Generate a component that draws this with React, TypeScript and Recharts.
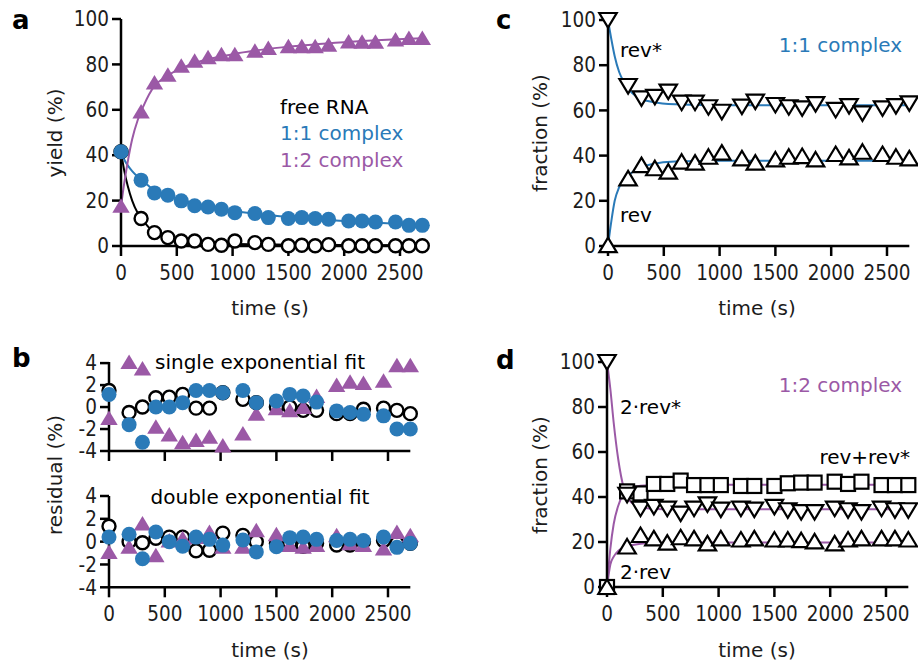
import React from 'react';
import { ComposedChart, Line, Scatter, XAxis, YAxis } from 'recharts';

// sampling times (s), shared by every panel
const TIME = [0, 180, 300, 420, 540, 660, 780, 900, 1020, 1200, 1320, 1500, 1620, 1740, 1860, 2040, 2160, 2280, 2460, 2580, 2700];
const X_TICKS = [0, 500, 1000, 1500, 2000, 2500];

// a: yields (%)
const FREE_RNA = [41.5, 12.1, 5.9, 3.7, 2.2, 2.2, 0.7, 0.3, 2.2, 1.5, 0.7, 0.1, 0.3, 0.1, 0.6, 0.1, 0.1, 0.1, 0.1, 0.1, 0.1];
const COMPLEX_11 = [41.5, 29, 23.4, 22.4, 19.9, 17.7, 17.2, 16.2, 14.7, 14.3, 12.5, 12.1, 12.5, 12.1, 11.8, 11, 11, 10.6, 10.6, 9.1, 9.1];
const COMPLEX_12 = [17.7, 59.2, 72, 75.4, 79.4, 81.6, 83.2, 84.5, 84.5, 86, 87.2, 88, 88, 88, 88.7, 90.1, 90, 90, 91, 91.6, 91.6];

// b: residuals (%)
const SINGLE_FREE = [1.5, -0.5, 0, 0.85, 0.9, 1.15, -0.1, -0.1, 1.3, 0.7, 0.4, 0, 0, -0.3, -0.3, -0.6, -0.6, -0.2, -0.1, -0.3, -0.6];
const SINGLE_11 = [1.15, -1.6, -3.2, 0, 0, 0.4, 1.5, 1.5, 1.3, 1.5, 0.4, 0.55, 1.15, 1, 0.45, -0.35, -0.5, -0.65, -0.8, -2, -2];
const SINGLE_12 = [-1, 4.1, 3.5, -1.8, -2.5, -3.2, -3, -2.7, -3.5, -2.4, -0.6, -0.1, -0.3, 0, 1, 2, 2.3, 2.2, 2.4, 3.8, 3.8];
const DOUBLE_FREE = [1.35, 0, -0.1, 0.3, 0.4, 0.4, -0.8, -0.75, 0.75, 0.55, 0, -0.15, -0.15, -0.4, -0.15, -0.3, -0.3, 0, 0.1, -0.15, -0.15];
const DOUBLE_11 = [0.4, 0.65, -1.5, 0.85, 0, -0.4, 0.4, 0.2, -0.3, 0.15, -0.9, -0.45, 0.35, 0.4, 0.2, 0.1, 0.2, 0.1, 0.4, -0.5, -0.15];
const DOUBLE_12 = [-0.9, -0.45, 1.6, -1.2, 0.1, 0.3, 0.4, 0.85, -0.45, -0.45, 1, 0.65, -0.3, -0.45, -0.3, 0.55, -0.15, -0.3, -0.6, 0.85, 0.55];

// c: 1:1 complex fractions (%)
const REV_STAR_11 = [100, 70.8, 65.3, 66, 68.3, 63.4, 63.4, 61.4, 59.4, 61.7, 63.9, 62.4, 61.4, 60.9, 62.8, 60.2, 61.9, 58.7, 60.9, 61.9, 63.1];
const REV_11 = [0.4, 29.9, 35.8, 34.4, 32.9, 37.3, 36.9, 39.5, 41.3, 38.8, 36.9, 38.3, 39.5, 39.8, 38.3, 40.7, 39.2, 41.7, 40.7, 39.5, 38.8];

// d: 1:2 complex fractions (%)
const REV_STAR_12 = [100, 41, 34.8, 35.6, 34.8, 32.6, 34.8, 36.7, 34.4, 34.8, 34.4, 35.6, 34.1, 33.3, 33.3, 34.8, 34.1, 33.3, 34.8, 34.1, 34.1];
const REVREV_12 = [0, 42.5, 41.6, 45.8, 45.8, 47.3, 45.3, 45.3, 45.3, 44.9, 44.9, 44.9, 46.1, 46.4, 46.4, 46.8, 45.8, 46.8, 45.3, 45.3, 45.3];
const REV_12 = [0, 18, 23.1, 21.6, 19.7, 22.1, 21.6, 19.4, 21.6, 21.1, 21.6, 21.1, 21.1, 20.8, 20.3, 19.4, 21.1, 21.6, 21.6, 21.6, 21.1];

// fitted curves, sampled at these times
const FIT_T = [0, 30, 60, 100, 150, 200, 300, 400, 600, 1000, 1500, 2000, 2700];
const FIT_FREE = [41.5, 33, 26.5, 20, 14.5, 11, 6, 3.8, 2, 1, 0.6, 0.4, 0.3];
const FIT_11 = [41.5, 38, 35.5, 33, 30.5, 28.5, 24.5, 22.5, 19.5, 15.5, 12.8, 11, 9.3];
const FIT_12 = [17.5, 28, 37, 47, 55.5, 61.5, 70.5, 74.5, 79.5, 84.5, 87.8, 89.8, 91.5];
const FIT_REV_STAR_11 = [100, 91.5, 84, 77, 72, 68.5, 65, 63.7, 62.7, 62.3, 62.3, 62.3, 62.3];
const FIT_REV_11 = [0, 11, 20, 26, 29.8, 32, 35, 36.3, 37.4, 37.7, 37.7, 37.7, 37.7];
const FIT_REV_STAR_12 = [100, 88, 73, 57, 44, 38.5, 35.5, 34.8, 34.5, 34.5, 34.5, 34.5, 34.5];
const FIT_REVREV_12 = [0, 17, 28, 36, 41.5, 43.5, 45, 45.3, 45.5, 45.5, 45.5, 45.5, 45.5];
const FIT_REV_12 = [0, 10, 13.5, 16, 17.5, 18.3, 19.2, 19.6, 19.8, 19.8, 19.8, 19.8, 19.8];

const PURPLE = '#9b59a6';
const BLUE = '#2a7ab8';
const INK = '#1c1c1c';
const FONT = '"DejaVu Sans", sans-serif';
const TICK_FONT = '"DejaVu Sans Condensed", "DejaVu Sans", sans-serif';

const PLOT_W = 2700 * 0.1116;
const AXIS = { stroke: '#000', strokeWidth: 2.5 };

const pts = (ts: number[], vs: number[]) => ts.map((t, i) => ({ t, v: vs[i] }));

// marker shapes
const TriUp = ({ cx, cy, fill = '#fff', stroke = '#000' }: any) => (
  <polygon points={`${cx},${cy - 7.5} ${cx + 8.7},${cy + 7} ${cx - 8.7},${cy + 7}`} fill={fill} stroke={stroke} strokeWidth={fill === '#fff' ? 2.2 : 0} />
);
const TriDown = ({ cx, cy }: any) => (
  <polygon points={`${cx - 8.7},${cy - 7} ${cx + 8.7},${cy - 7} ${cx},${cy + 7.5}`} fill="#fff" stroke="#000" strokeWidth={2.2} />
);
const Square = ({ cx, cy }: any) => (
  <rect x={cx - 7} y={cy - 7} width={14} height={14} fill="#fff" stroke="#000" strokeWidth={2.2} />
);
const OpenDot = ({ cx, cy }: any) => <circle cx={cx} cy={cy} r={6.5} fill="#fff" stroke="#000" strokeWidth={2.4} />;
const BlueDot = ({ cx, cy }: any) => <circle cx={cx} cy={cy} r={7.5} fill={BLUE} />;
const PurpleTri = (p: any) => <TriUp {...p} fill={PURPLE} stroke="none" />;

const fit = (key: string, vs: number[], color: string) => (
  <Line key={key} data={pts(FIT_T, vs)} dataKey="v" type="monotone" stroke={color} strokeWidth={2}
    dot={false} activeDot={false} isAnimationActive={false} />
);
const marks = (key: string, vs: number[], shape: any) => (
  <Scatter key={key} data={pts(TIME, vs)} dataKey="v" shape={shape} isAnimationActive={false} />
);

type PanelProps = {
  plotLeft: number;
  plotTop: number;
  plotH: number;
  yDomain: [number, number];
  yTicks: number[];
  xLabels?: boolean;
  children: React.ReactNode;
};

function Panel({ plotLeft, plotTop, plotH, yDomain, yTicks, xLabels = true, children }: PanelProps) {
  const W = 70 + PLOT_W + 20;
  const H = 15 + plotH + 45;
  const tickStyle = { fill: INK, fontSize: 20.5, fontFamily: TICK_FONT };
  return (
    <div style={{ position: 'absolute', left: plotLeft - 70, top: plotTop - 15 }}>
      <ComposedChart width={W} height={H} margin={{ top: 15, right: 20, bottom: 0, left: 10 }}>
        <XAxis type="number" dataKey="t" domain={[0, 2700]} ticks={X_TICKS} interval={0} height={45}
          axisLine={AXIS} tickLine={AXIS} tickSize={10} tickMargin={9} tick={tickStyle}
          tickFormatter={xLabels ? undefined : () => ''} />
        <YAxis type="number" dataKey="v" domain={yDomain} ticks={yTicks} interval={0} width={60}
          axisLine={AXIS} tickLine={AXIS} tickSize={9} tickMargin={3} tick={tickStyle} />
        {children}
      </ComposedChart>
    </div>
  );
}

const Txt = ({ x, y, color = INK, size = 20, anchor = 'left', bold = false, children }: any) => (
  <div style={{
    position: 'absolute', left: x, top: y, transform: `translate(${anchor === 'center' ? '-50%' : anchor === 'right' ? '-100%' : '0'}, -50%)`,
    color, fontSize: size, fontFamily: FONT, fontWeight: bold ? 700 : 400, whiteSpace: 'nowrap', lineHeight: 1,
  }}>{children}</div>
);

const VTxt = ({ x, y, children }: any) => (
  <div style={{
    position: 'absolute', left: x, top: y, transform: 'translate(-50%, -50%) rotate(-90deg)',
    color: INK, fontSize: 20, fontFamily: FONT, whiteSpace: 'nowrap', lineHeight: 1,
  }}>{children}</div>
);

const PCT_TICKS = [0, 20, 40, 60, 80, 100];
const RES_TICKS = [-4, -2, 0, 2, 4];

export default function App() {
  return (
    <div style={{ position: 'absolute', left: 0, top: 0, width: 918, height: 666, background: '#fff', overflow: 'hidden' }}>
      {/* a: yields */}
      <Panel plotLeft={121} plotTop={19} plotH={227} yDomain={[0, 100]} yTicks={PCT_TICKS}>
        {fit('fFree', FIT_FREE, '#000')}
        {fit('f11', FIT_11, BLUE)}
        {fit('f12', FIT_12, PURPLE)}
        {marks('free', FREE_RNA, OpenDot)}
        {marks('c12', COMPLEX_12, PurpleTri)}
        {marks('c11', COMPLEX_11, BlueDot)}
      </Panel>

      {/* b: residuals, single and double exponential fits */}
      <Panel plotLeft={109} plotTop={361.7} plotH={89} yDomain={[-4, 4]} yTicks={RES_TICKS} xLabels={false}>
        {marks('sFree', SINGLE_FREE, OpenDot)}
        {marks('s12', SINGLE_12, PurpleTri)}
        {marks('s11', SINGLE_11, BlueDot)}
      </Panel>
      <Panel plotLeft={109} plotTop={495.7} plotH={91.3} yDomain={[-4, 4]} yTicks={RES_TICKS}>
        {marks('dFree', DOUBLE_FREE, OpenDot)}
        {marks('d12', DOUBLE_12, PurpleTri)}
        {marks('d11', DOUBLE_11, BlueDot)}
      </Panel>

      {/* c: 1:1 complex */}
      <Panel plotLeft={607.7} plotTop={20} plotH={226} yDomain={[0, 100]} yTicks={PCT_TICKS}>
        {fit('fRs11', FIT_REV_STAR_11, BLUE)}
        {fit('fR11', FIT_REV_11, BLUE)}
        {marks('rs11', REV_STAR_11, TriDown)}
        {marks('r11', REV_11, TriUp)}
      </Panel>

      {/* d: 1:2 complex */}
      <Panel plotLeft={606.7} plotTop={361.7} plotH={225} yDomain={[0, 100]} yTicks={PCT_TICKS}>
        {fit('fRs12', FIT_REV_STAR_12, PURPLE)}
        {fit('fRr12', FIT_REVREV_12, PURPLE)}
        {fit('fR12', FIT_REV_12, PURPLE)}
        {marks('rr12', REVREV_12, Square)}
        {marks('rs12', REV_STAR_12, TriDown)}
        {marks('r12', REV_12, TriUp)}
      </Panel>

      {/* panel letters */}
      <Txt x={12} y={20} size={26} bold color="#000">a</Txt>
      <Txt x={12} y={358} size={26} bold color="#000">b</Txt>
      <Txt x={496} y={20} size={26} bold color="#000">c</Txt>
      <Txt x={496} y={360} size={26} bold color="#000">d</Txt>

      {/* axis titles */}
      <VTxt x={55} y={133}>yield (%)</VTxt>
      <VTxt x={55} y={475}>residual (%)</VTxt>
      <VTxt x={540} y={133}>fraction (%)</VTxt>
      <VTxt x={540} y={475}>fraction (%)</VTxt>
      <Txt x={270} y={308} anchor="center">time (s)</Txt>
      <Txt x={270} y={650} anchor="center">time (s)</Txt>
      <Txt x={757} y={308} anchor="center">time (s)</Txt>
      <Txt x={757} y={650} anchor="center">time (s)</Txt>

      {/* a legend */}
      <Txt x={280} y={107} color="#000">free RNA</Txt>
      <Txt x={280} y={133} color={BLUE}>1:1 complex</Txt>
      <Txt x={280} y={160} color={PURPLE}>1:2 complex</Txt>

      {/* b captions */}
      <Txt x={260} y={362} anchor="center" color="#000">single exponential fit</Txt>
      <Txt x={260} y={497} anchor="center" color="#000">double exponential fit</Txt>

      {/* c labels */}
      <Txt x={620} y={50} color="#000">rev*</Txt>
      <Txt x={620} y={215} color="#000">rev</Txt>
      <Txt x={902} y={45} anchor="right" color={BLUE}>1:1 complex</Txt>

      {/* d labels */}
      <Txt x={620} y={407} color="#000">2·rev*</Txt>
      <Txt x={910} y={457} anchor="right" color="#000">rev+rev*</Txt>
      <Txt x={620} y={572} color="#000">2·rev</Txt>
      <Txt x={902} y={385} anchor="right" color={PURPLE}>1:2 complex</Txt>
    </div>
  );
}
